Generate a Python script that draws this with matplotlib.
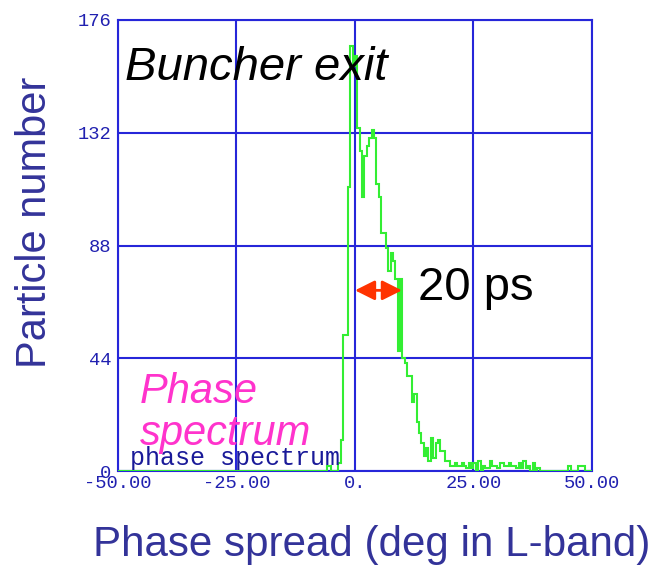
import numpy as np
import matplotlib
matplotlib.use('Agg')
import matplotlib.pyplot as plt

# histogram of phase (deg), bins of 0.5 deg starting at -6.5
bin_start = -6.5
bin_width = 0.5
counts = [0, 2, 2, 0, 0, 0, 3, 12, 53, 53,
          111, 166, 158, 162, 134, 125, 107, 123, 127, 130,
          133, 130, 112, 107, 93, 93, 87, 78, 85, 82,
          75, 47, 75, 44, 42, 37, 37, 27, 30, 19,
          15, 11, 6, 9, 4, 13, 5, 11, 12, 8,
          8, 4, 4, 2, 2, 3, 2, 2, 3, 2,
          1, 3, 1, 3, 0, 4, 0, 2, 1, 1,
          4, 2, 2, 1, 3, 3, 2, 2, 3, 2,
          2, 1, 3, 1, 4, 1, 2, 0, 3, 0,
          1, 0, 0, 0, 0, 0, 0, 0, 0, 0,
          0, 0, 0, 2, 0, 0, 0, 2, 2, 2,
          0, 0, 0]

x_ticks = [-50, -25, 0, 25, 50]
x_tick_labels = ['-50.00', '-25.00', '0.', '25.00', '50.00']
y_ticks = [0, 44, 88, 132, 176]
y_tick_labels = ['0', '44', '88', '132', '176']
fwhm_range = (0, 9.9)   # the "20 ps" arrow
fwhm_level = 70.5

edges = np.concatenate([[-50], bin_start + bin_width * np.arange(len(counts) + 1)])
vals = np.concatenate([[0], counts])

fig = plt.figure(figsize=(6.58, 5.7), dpi=100)
ax = fig.add_axes([118/658, 1 - 471/570, (592-118)/658, (471-20)/570])

blue = '#2626d9'
ax.stairs(vals, edges, color='#33ee33', lw=1.5, zorder=3)

ax.set_xlim(-50, 50)
ax.set_ylim(0, 176)
ax.set_xticks(x_ticks)
ax.set_xticklabels(x_tick_labels)
ax.set_yticks(y_ticks)
ax.set_yticklabels(y_tick_labels)
ax.grid(True, color=blue, lw=1.5)
ax.set_axisbelow(True)
for s in ax.spines.values():
    s.set_color(blue)
    s.set_linewidth(1.5)
ax.tick_params(length=0, labelsize=13.5, labelcolor='#2020b0')
ax.tick_params(axis='x', pad=3)
ax.tick_params(axis='y', pad=5)
for lab in ax.get_xticklabels() + ax.get_yticklabels():
    lab.set_family('Liberation Mono')

ax.annotate('', xy=(fwhm_range[0], fwhm_level), xytext=(fwhm_range[1], fwhm_level),
            arrowprops=dict(arrowstyle='<|-|>', color='#ff3300', lw=2,
                            mutation_scale=30, shrinkA=0, shrinkB=0),
            zorder=5)

sans = 'Liberation Sans'
ax.text(-48.5, 152.6, 'Buncher exit', fontsize=34, style='italic', family=sans,
        color='black', va='baseline', zorder=6)
ax.text(13.3, 66.7, '20 ps', fontsize=34, family=sans, color='black', va='baseline')
ax.text(-47.5, 2.3, 'phase spectrum', fontsize=18, family='Liberation Mono',
        color='#1a1a99', va='baseline', zorder=4)
ax.text(-45.4, 26.5, 'Phase', fontsize=30, style='italic', family=sans,
        color='#ff33cc', va='baseline', zorder=6)
ax.text(-45.4, 10.1, 'spectrum', fontsize=30, style='italic', family=sans,
        color='#ff33cc', va='baseline', zorder=6)

fig.text(35/658, 1 - 222/570, 'Particle number', rotation=90, fontsize=30,
         family=sans, color='#333399', ha='center', va='center')
fig.text(372/658, 1 - 545/570, 'Phase spread (deg in L-band)', fontsize=30.3,
         family=sans, color='#333399', ha='center', va='center')

fig.savefig('out.png', dpi=100)
